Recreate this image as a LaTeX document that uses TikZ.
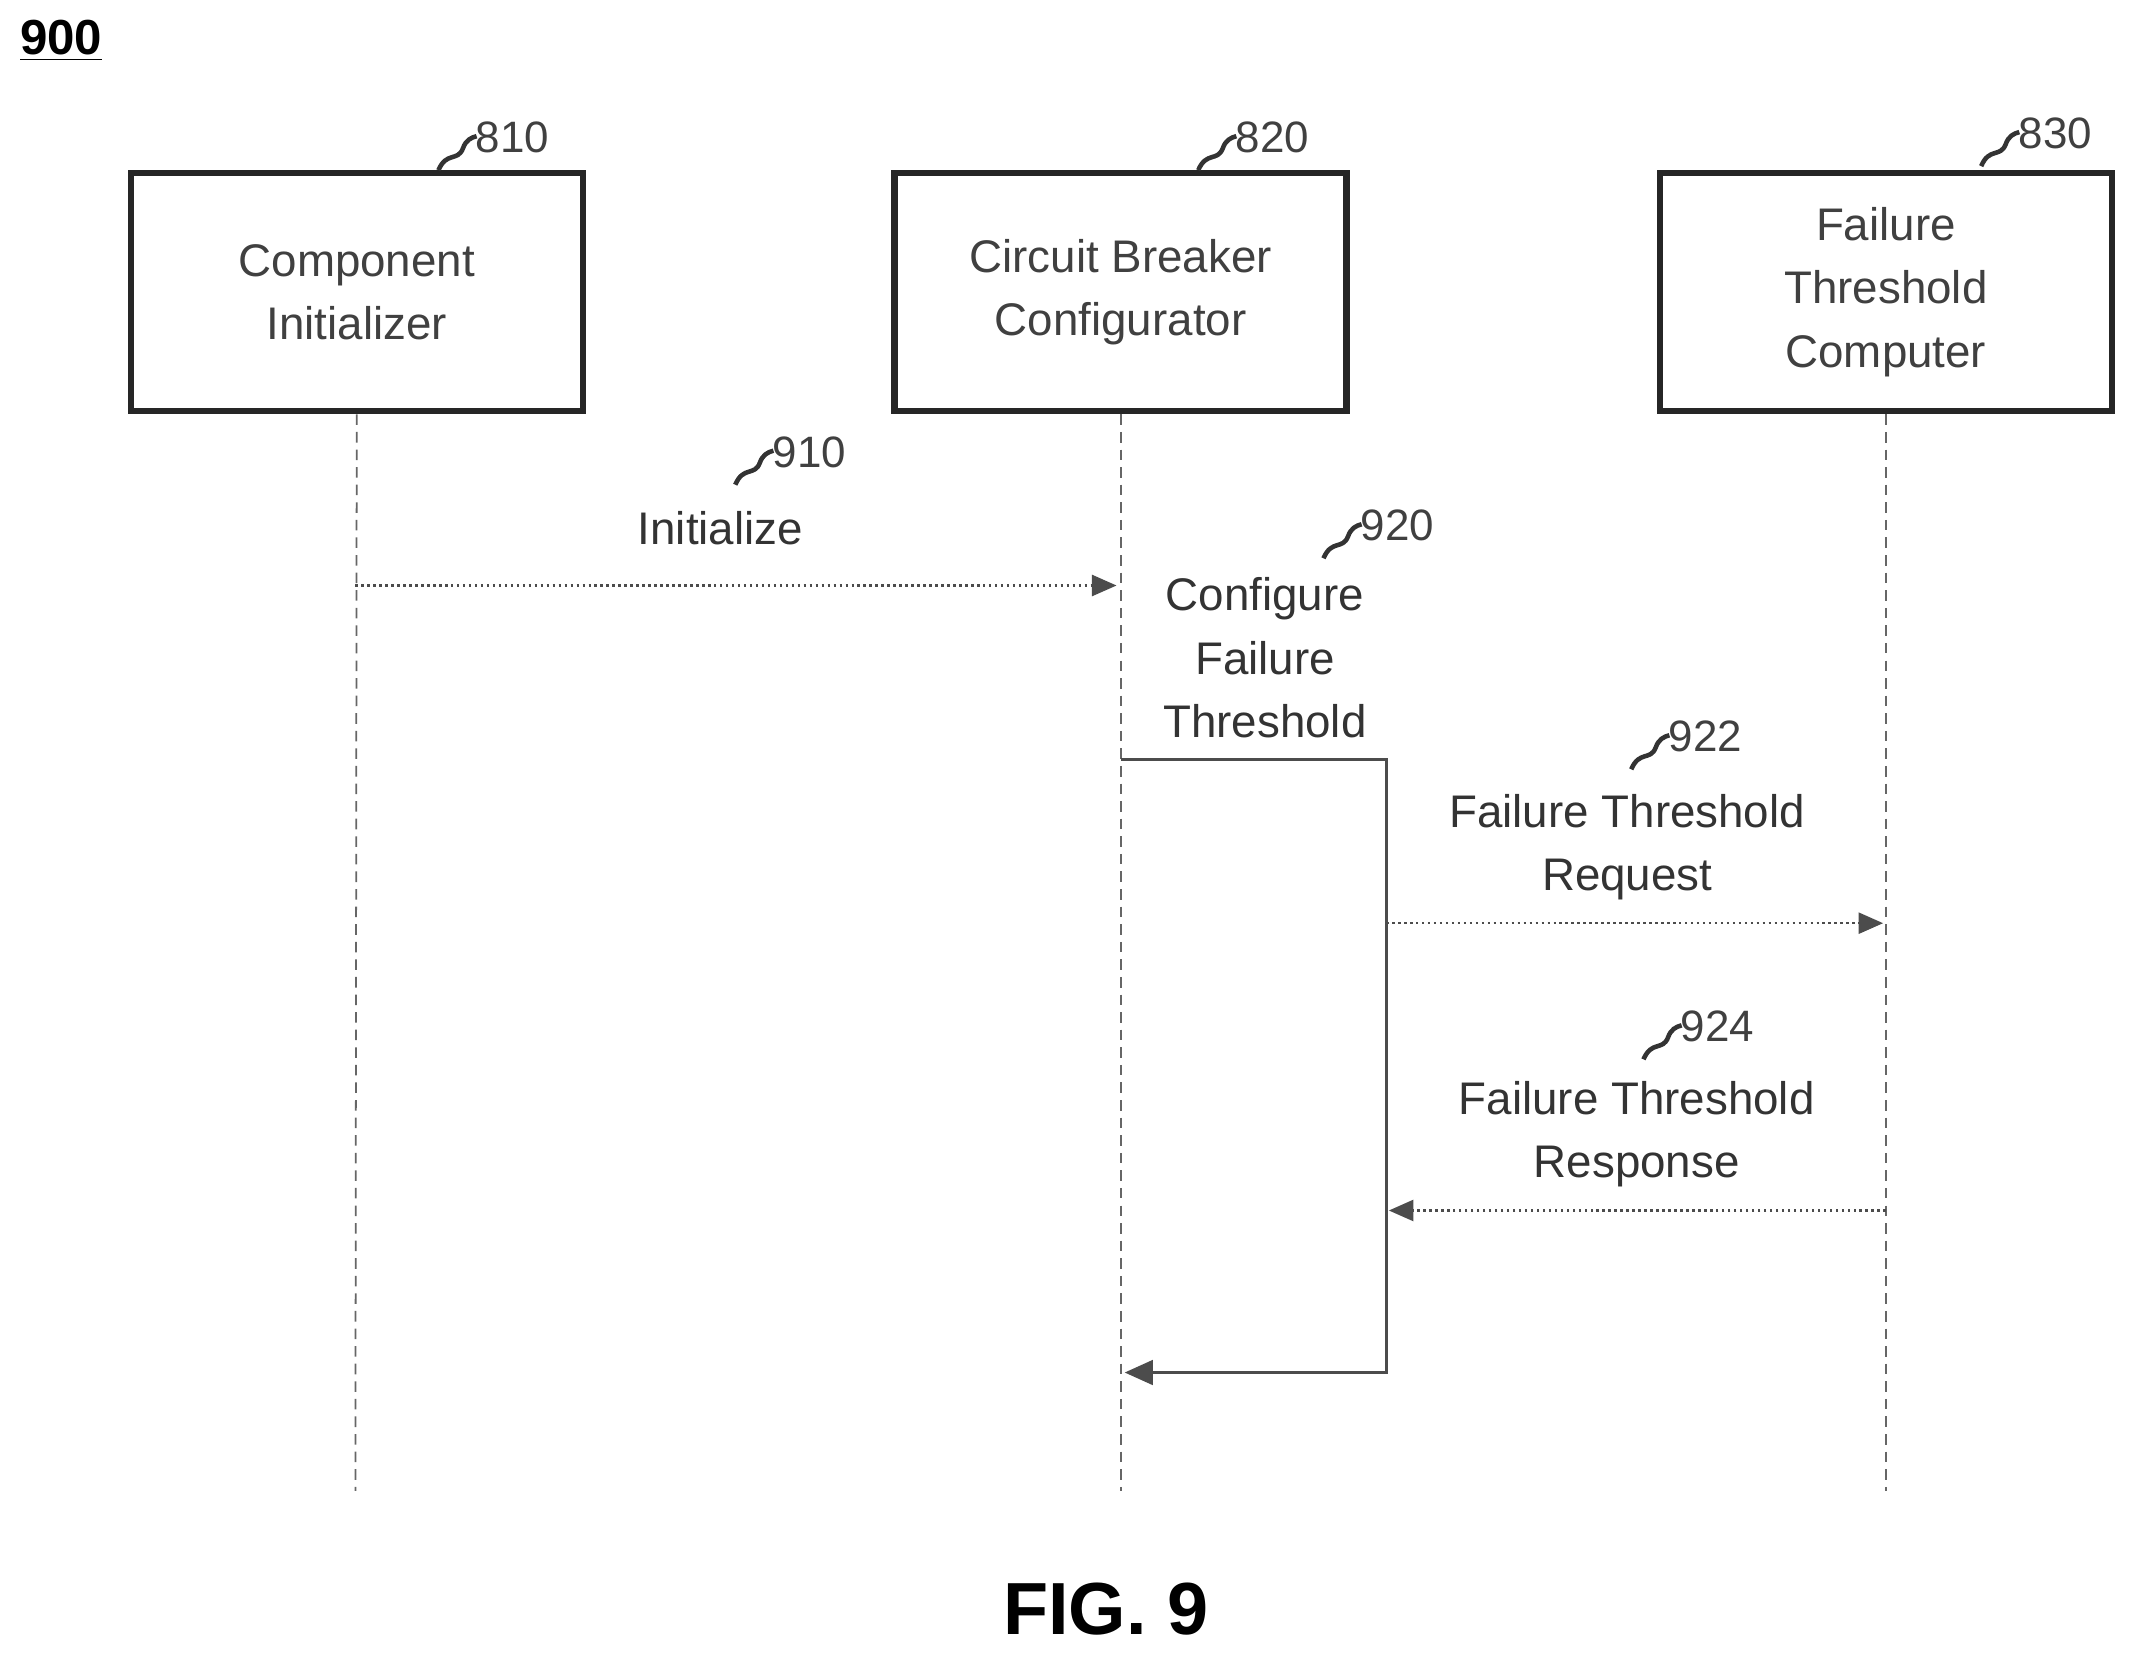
\documentclass[tikz,border=0pt]{standalone}
\usepackage{fontspec}
\setmainfont{Liberation Sans}
\usetikzlibrary{arrows.meta}
\begin{document}
\begin{tikzpicture}[x=0.013616cm,y=-0.013616cm,
  box/.style={draw=black!85,line width=1.8pt,minimum width=332*0.013616cm,minimum height=175*0.013616cm,align=center,font=\fontsize{13}{18}\selectfont,text=black!75},
  life/.style={draw=black!60,densely dashed,line width=0.5pt},
  msg/.style={draw=black!70,densely dotted,line width=0.7pt,-{Triangle[length=7pt,width=6pt]}},
  lbl/.style={align=center,font=\fontsize{13}{18}\selectfont,text=black!80},
  ref/.style={font=\fontsize{12.5}{15}\selectfont,text=black!75,anchor=west,inner sep=0pt},
  sq/.style={draw=black!80,line width=1.3pt}]
\useasboundingbox (0,0) rectangle (1568,1216);
\node[font=\bfseries\fontsize{14}{16}\selectfont] (t) at (45,30) {\underline{900}};
\node[box] (a) at (262,214.5) {Component\\Initializer};
\node[box] (b) at (823,214.5) {Circuit Breaker\\Configurator};
\node[box] (c) at (1385,214.5) {Failure\\Threshold\\Computer};
\coordinate (ae) at (261,1095); \coordinate (be) at (823,1095); \coordinate (ce) at (1385,1095);
\draw[life] (a.south) -- (ae);
\draw[life] (b.south) -- (be);
\draw[life] (c.south) -- (ce);
% refs
\foreach \x/\y/\t/\n in {322/125/810/r1,880/125/820/r2,1455/122/830/r3,540/356/910/r4,972/410/920/r5,1198/565/922/r6,1207/778/924/r7}{
  \draw[sq] (\x,\y) .. controls (\x+6,\y-14) and (\x+14,\y-6) .. (\x+18,\y-16) .. controls (\x+20,\y-22) and (\x+24,\y-24) .. (\x+28,\y-25);
  \node[ref] (\n) at (\x+27,\y-24) {\t};
}
\coordinate (m1s) at (261,430); \coordinate (m1e) at (820,430);
\draw[msg] (m1s) -- (m1e);
\node[lbl] (l1) at (529,388) {Initialize};
\node[lbl] (l2) at (929,483) {Configure\\Failure\\Threshold};
\coordinate (p1) at (823,558); \coordinate (p2) at (1018,558); \coordinate (p3) at (1018,1008); \coordinate (p4) at (826,1008);
\draw[draw=black!70,line width=0.8pt,-{Triangle[length=8pt,width=7pt]}] (p1) -- (p2) -- (p3) -- (p4);
\coordinate (q1) at (1018,678); \coordinate (q2) at (1383,678);
\draw[msg] (q1) -- (q2);
\node[lbl] (l3) at (1195,622) {Failure Threshold\\Request};
\coordinate (s1) at (1385,889); \coordinate (s2) at (1020,889);
\draw[msg] (s1) -- (s2);
\node[lbl] (l4) at (1202,833) {Failure Threshold\\Response};
\node[font=\bfseries\fontsize{21}{24}\selectfont] (f) at (812,1182) {FIG. 9};
\end{tikzpicture}
\end{document}
